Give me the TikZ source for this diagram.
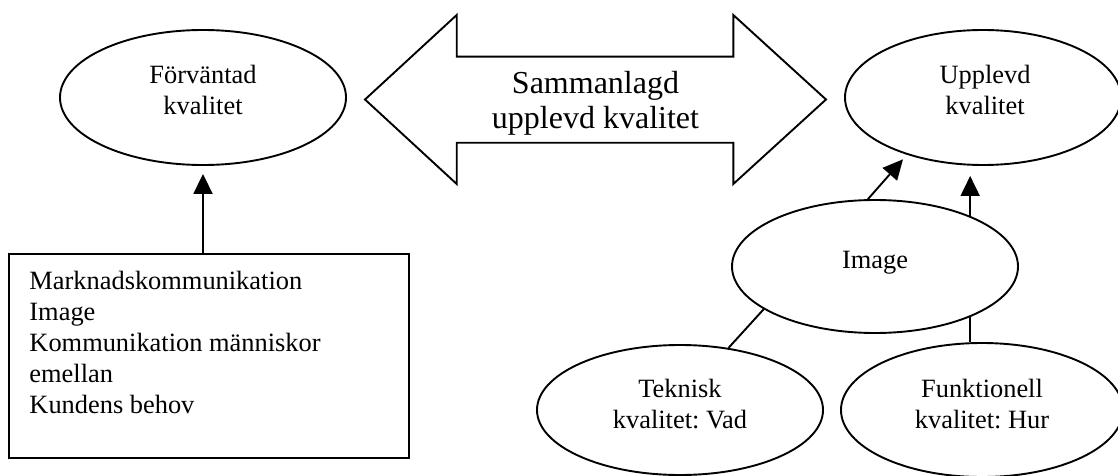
\documentclass[tikz,border=0pt]{standalone}
\usepackage{fontspec}
\setmainfont{Liberation Serif}
\usetikzlibrary{shapes.geometric,arrows.meta}
\frenchspacing
\begin{document}
\begin{tikzpicture}[x=0.5pt,y=-0.5pt,
  line/.style={line width=0.95pt, draw=black},
  oval/.style={ellipse, line, inner sep=0pt},
  txt/.style={align=center, inner sep=0pt, font=\fontsize{13.2}{15.5}\selectfont},
  bigtxt/.style={align=center, inner sep=0pt, font=\fontsize{16}{17.5}\selectfont},
  arr/.style={line, -{Triangle[length=10pt,width=9.5pt]}},
]
\useasboundingbox (0,0) rectangle (1118,476);

% ellipses
\node[oval, minimum width=143pt, minimum height=67.5pt,
  label={[txt, name=forvtxt, yshift=4pt]center:Förväntad\\kvalitet}] (forv) at (203,97.5) {};
\node[oval, minimum width=138pt, minimum height=67.5pt,
  label={[txt, name=upptxt, xshift=1pt, yshift=4pt]center:Upplevd\\kvalitet}] (upp) at (983,97.5) {};
\node[oval, minimum width=143pt, minimum height=66.5pt,
  label={[txt, name=imgtxt, yshift=1.75pt]center:Image}] (img) at (875,266.5) {};
\node[oval, minimum width=143pt, minimum height=65pt,
  label={[txt, name=tektxt, yshift=2.75pt]center:Teknisk\\kvalitet: Vad}] (tek) at (680,410) {};
\node[oval, minimum width=141pt, minimum height=67pt,
  label={[txt, name=funtxt, yshift=2.75pt]center:Funktionell\\kvalitet: Hur}] (fun) at (982,410) {};

% rectangle
\node[rectangle, line, minimum width=200pt, minimum height=102pt, inner sep=0pt,
  label={[txt, align=left, name=boxtxt, anchor=north west, xshift=10.5pt, yshift=-9pt]north west:Marknadskommunikation\\Image\\Kommunikation människor\\emellan\\Kundens behov}] (box) at (209,356) {};

% double arrow
\draw[line] (365,99.5) -- (456.7,15) -- (456.7,56.7) -- (733.3,56.7) -- (733.3,15)
  -- (826,99.5) -- (733.3,184) -- (733.3,142.7) -- (456.7,142.7) -- (456.7,184) -- cycle;
\node[bigtxt] (sum) at (595.5,103.7) {Sammanlagd\\upplevd kvalitet};

% connectors
\draw[arr, shorten >=4pt] (forv.south |- box.north) -- (forv.south);
\draw[arr, shorten >=3pt] (img.96.9) -- (upp.217.7);
\draw[arr, shorten >=5pt] (img.28.06) -- (img.28.06 |- upp.south);
\draw[line] (tek.52.3) -- (img.201.4);
\draw[line] (img.-28.06) -- (img.-28.06 |- fun.north);
\end{tikzpicture}
\end{document}
